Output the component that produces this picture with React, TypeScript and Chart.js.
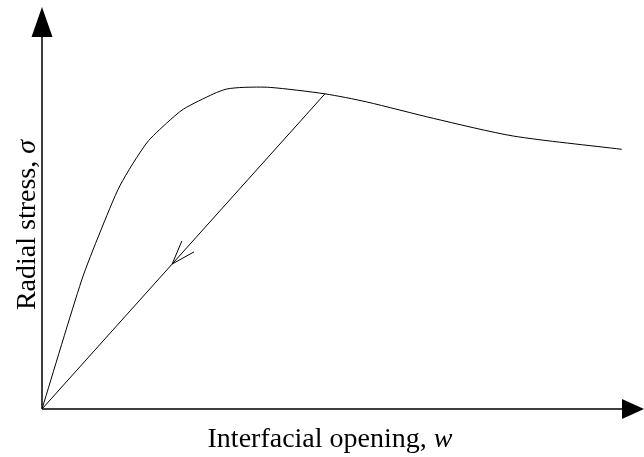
import React, { useEffect, useRef } from "react";
import { Chart, registerables } from "chart.js";

Chart.register(...registerables);

// Softening curve: interfacial opening w vs. radial stress σ (arbitrary units)
const curveW = [0, 0.66, 0.96, 1.3, 1.74, 2.07, 2.35, 2.85, 3.07, 3.34, 3.79, 4.7, 5.39, 6.5, 7.83, 9.63];
const curveSigma = [0, 3.21, 4.38, 5.57, 6.62, 7.11, 7.46, 7.84, 7.96, 8.0, 8.0, 7.84, 7.64, 7.23, 6.79, 6.46];

// Unloading path back to the origin
const unloadW = [4.7, 0];
const unloadSigma = [7.84, 0];
// Position of the direction arrow along the unloading path (fraction from its start)
const unloadArrowAt = 0.54;

const xTitle = "Interfacial opening, ";
const xSymbol = "w";
const yTitle = "Radial stress, ";
const ySymbol = "σ";

const FONT = "'Liberation Serif', 'Times New Roman', serif";

function arrowHead(ctx: CanvasRenderingContext2D, tipX: number, tipY: number, angle: number, len: number, half: number) {
  ctx.save();
  ctx.translate(tipX, tipY);
  ctx.rotate(angle);
  ctx.beginPath();
  ctx.moveTo(0, 0);
  ctx.lineTo(-len, -half);
  ctx.lineTo(-len, half);
  ctx.closePath();
  ctx.fill();
  ctx.restore();
}

const decorations = {
  id: "decorations",
  afterDatasetsDraw(chart: Chart) {
    const { ctx, chartArea, scales } = chart;
    const xs = scales.x;
    const ys = scales.y;
    const ox = xs.getPixelForValue(0);
    const oy = ys.getPixelForValue(0);
    ctx.save();
    ctx.strokeStyle = "#000";
    ctx.fillStyle = "#000";

    // Axes
    ctx.lineWidth = 1.5;
    ctx.beginPath();
    ctx.moveTo(ox, oy);
    ctx.lineTo(ox, chartArea.top + 20);
    ctx.moveTo(ox, oy);
    ctx.lineTo(chartArea.right - 20, oy);
    ctx.stroke();
    arrowHead(ctx, ox, chartArea.top, -Math.PI / 2, 30, 10.5);
    arrowHead(ctx, chartArea.right, oy, 0, 22, 10);

    // Open arrow on the unloading path
    const x0 = xs.getPixelForValue(unloadW[0]);
    const y0 = ys.getPixelForValue(unloadSigma[0]);
    const x1 = xs.getPixelForValue(unloadW[1]);
    const y1 = ys.getPixelForValue(unloadSigma[1]);
    const tx = x0 + (x1 - x0) * unloadArrowAt;
    const ty = y0 + (y1 - y0) * unloadArrowAt;
    const back = Math.atan2(y0 - y1, x0 - x1);
    const spread = (19 * Math.PI) / 180;
    const wing = 25;
    ctx.lineWidth = 1;
    ctx.beginPath();
    ctx.moveTo(tx + wing * Math.cos(back - spread), ty + wing * Math.sin(back - spread));
    ctx.lineTo(tx, ty);
    ctx.lineTo(tx + wing * Math.cos(back + spread), ty + wing * Math.sin(back + spread));
    ctx.stroke();

    // Axis titles
    const size = 28;
    ctx.textBaseline = "alphabetic";
    ctx.textAlign = "left";
    ctx.font = `${size}px ${FONT}`;
    const xw1 = ctx.measureText(xTitle).width;
    ctx.font = `italic ${size}px ${FONT}`;
    const xw2 = ctx.measureText(xSymbol).width;
    let sx = 330 - (xw1 + xw2) / 2;
    ctx.font = `${size}px ${FONT}`;
    ctx.fillText(xTitle, sx, 447);
    ctx.font = `italic ${size}px ${FONT}`;
    ctx.fillText(xSymbol, sx + xw1, 447);

    ctx.translate(35, 225);
    ctx.rotate(-Math.PI / 2);
    ctx.font = `${size}px ${FONT}`;
    const yw1 = ctx.measureText(yTitle).width;
    ctx.font = `italic ${size}px ${FONT}`;
    const yw2 = ctx.measureText(ySymbol).width;
    sx = -(yw1 + yw2) / 2;
    ctx.font = `${size}px ${FONT}`;
    ctx.fillText(yTitle, sx, 0);
    ctx.font = `italic ${size}px ${FONT}`;
    ctx.fillText(ySymbol, sx + yw1, 0);
    ctx.restore();
  },
};

export default function App() {
  const ref = useRef<HTMLCanvasElement | null>(null);
  useEffect(() => {
    if (!ref.current) return;
    const chart = new Chart(ref.current, {
      type: "line",
      data: {
        datasets: [
          {
            data: curveW.map((w, i) => ({ x: w, y: curveSigma[i] })),
            borderColor: "#000",
            borderWidth: 1,
            pointRadius: 0,
            tension: 0.25,
            fill: false,
          },
          {
            data: unloadW.map((w, i) => ({ x: w, y: unloadSigma[i] })),
            borderColor: "#000",
            borderWidth: 1,
            pointRadius: 0,
            tension: 0,
            fill: false,
          },
        ],
      },
      options: {
        responsive: false,
        animation: false,
        layout: { padding: { left: 42, top: 7, right: 0, bottom: 48 } },
        scales: {
          x: { type: "linear", display: false, min: 0, max: 10 },
          y: { type: "linear", display: false, min: 0, max: 10 },
        },
        plugins: { legend: { display: false }, tooltip: { enabled: false } },
      },
      plugins: [decorations],
    });
    return () => chart.destroy();
  }, []);
  return (
    <div style={{ position: "absolute", left: 0, top: 0, width: 644, height: 457, background: "#fff" }}>
      <canvas ref={ref} width={644} height={457} />
    </div>
  );
}
